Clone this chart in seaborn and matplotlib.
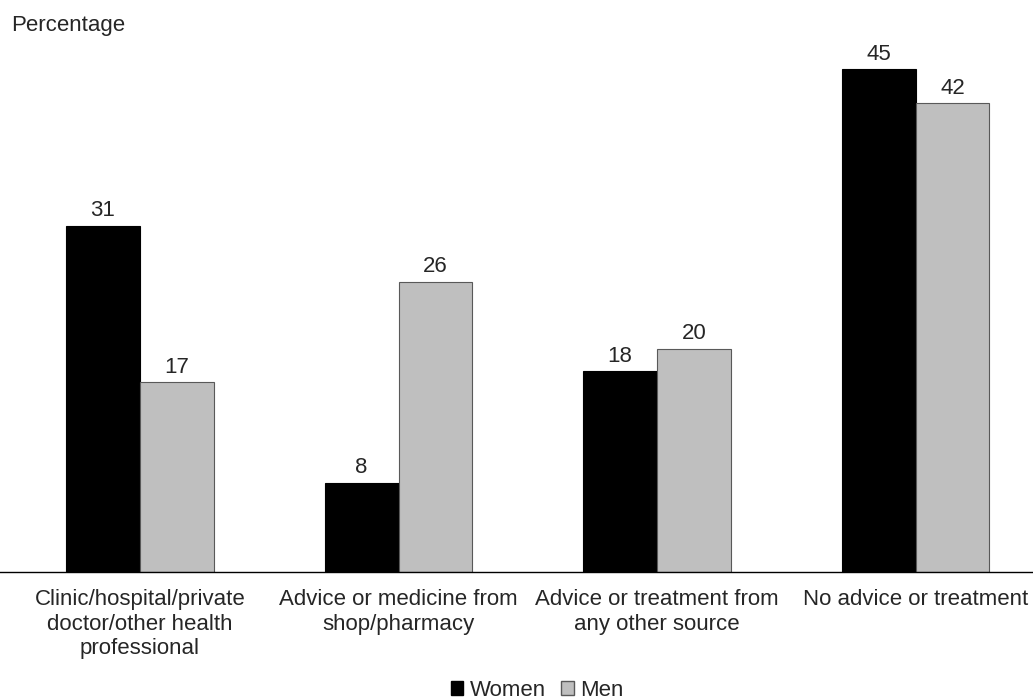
import pandas as pd
import matplotlib
matplotlib.use('Agg')
import matplotlib.pyplot as plt
import seaborn as sns
from matplotlib.patches import Patch

categories = ['Clinic/hospital/private\ndoctor/other health\nprofessional',
              'Advice or medicine from\nshop/pharmacy',
              'Advice or treatment from\nany other source',
              'No advice or treatment']
women = [31, 8, 18, 45]
men = [17, 26, 20, 42]
groups = ['Women', 'Men']
colors = {'Women': '#000000', 'Men': '#BFBFBF'}
edges = {'Women': '#000000', 'Men': '#595959'}

sns.set_style('white')
plt.rcParams['font.family'] = ['Liberation Sans', 'DejaVu Sans']

df = pd.DataFrame({
    'category': categories * 2,
    'value': women + men,
    'sex': ['Women'] * 4 + ['Men'] * 4,
})

fig = plt.figure(figsize=(10.33, 7), dpi=100)
ax = fig.add_axes([0.0, 0.1829, 1.0, 0.8171])
sns.barplot(data=df, x='category', y='value', hue='sex', hue_order=groups,
            palette=colors, width=0.572, ax=ax, legend=False)

for cont, g in zip(ax.containers, groups):
    for bar in cont:
        bar.set_edgecolor(edges[g])
        bar.set_linewidth(0.8)
    ax.bar_label(cont, fmt='%d', padding=3, fontsize=16)

ax.set_xlim(-0.5416, 3.4545)
ax.set_ylim(0, 51.2)
ax.set_xlabel('')
ax.set_ylabel('')
ax.set_yticks([])
ax.tick_params(axis='x', length=0, labelsize=16, pad=12.5)
for s in ['top', 'right', 'left']:
    ax.spines[s].set_visible(False)
ax.spines['bottom'].set_color('black')
ax.spines['bottom'].set_linewidth(1)

fig.text(0.011, 0.963, 'Percentage', fontsize=16, va='center', ha='left')

handles = [Patch(facecolor=colors[g], edgecolor=edges[g], label=g) for g in groups]
fig.legend(handles=handles, loc='lower center', bbox_to_anchor=(0.52, -0.03), ncol=2,
           frameon=False, fontsize=16, handlelength=0.55, handleheight=0.55,
           handletextpad=0.3, columnspacing=0.7)

fig.savefig('out.png', dpi=100)
